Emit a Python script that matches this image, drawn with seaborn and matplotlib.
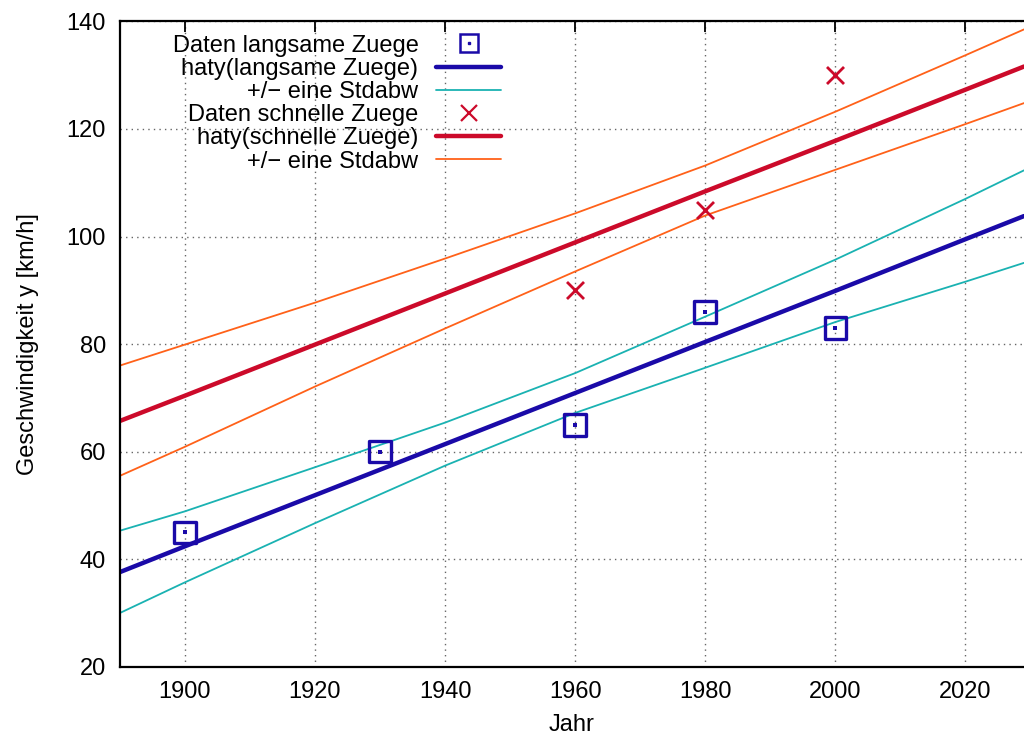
import matplotlib
matplotlib.use("Agg")
import matplotlib.pyplot as plt
from matplotlib.lines import Line2D
import seaborn as sns
import numpy as np

# ---- data ----
slow_years = [1900, 1930, 1960, 1980, 2000]
slow_speed = [45, 60, 65, 86, 83]
fast_years = [1960, 1980, 2000]
fast_speed = [90, 105, 130]

curve_years = [1890, 1900, 1920, 1940, 1960, 1980, 2000, 2020, 2029]
slow_fit   = [37.6, 42.4, 51.9, 61.4, 70.9, 80.4, 89.9, 99.5, 103.8]
slow_upper = [45.3, 48.9, 57.1, 65.4, 74.6, 85.1, 95.7, 107.0, 112.3]
slow_lower = [30.0, 35.7, 46.7, 57.4, 67.2, 75.6, 84.1, 91.6, 95.1]
fast_fit   = [65.7, 70.4, 79.9, 89.4, 98.9, 108.4, 117.8, 127.3, 131.6]
fast_upper = [76.0, 79.9, 87.7, 95.9, 104.3, 113.2, 123.2, 133.7, 138.5]
fast_lower = [55.5, 60.9, 72.1, 82.9, 93.5, 103.9, 112.4, 120.9, 124.8]

x_ticks = [1900, 1920, 1940, 1960, 1980, 2000, 2020]
y_ticks = [20, 40, 60, 80, 100, 120, 140]

labels = ["Daten langsame Zuege", "haty(langsame Zuege)", "+/\u2212 eine Stdabw",
          "Daten schnelle Zuege", "haty(schnelle Zuege)", "+/\u2212 eine Stdabw"]

# ---- style ----
sns.set_theme(style="white")
plt.rcParams["font.family"] = ["Liberation Sans", "DejaVu Sans"]
plt.rcParams["font.size"] = 17
plt.rcParams["text.color"] = "black"
plt.rcParams["axes.labelcolor"] = "black"
plt.rcParams["xtick.color"] = "black"
plt.rcParams["ytick.color"] = "black"

BLUE = "#1a0aa8"
CYAN = "#1ab2b2"
RED = "#cc0a2a"
ORANGE = "#ff6119"

fig = plt.figure(figsize=(10.24, 7.36), dpi=100)
ax = fig.add_axes([0.117, 0.094, 0.883, 0.877])

sns.lineplot(x=curve_years, y=slow_upper, ax=ax, color=CYAN, lw=1.3)
sns.lineplot(x=curve_years, y=slow_lower, ax=ax, color=CYAN, lw=1.3)
sns.lineplot(x=curve_years, y=fast_upper, ax=ax, color=ORANGE, lw=1.3)
sns.lineplot(x=curve_years, y=fast_lower, ax=ax, color=ORANGE, lw=1.3)
sns.lineplot(x=curve_years, y=slow_fit, ax=ax, color=BLUE, lw=3.2)
sns.lineplot(x=curve_years, y=fast_fit, ax=ax, color=RED, lw=3.2)

sns.scatterplot(x=slow_years, y=slow_speed, ax=ax, marker="s", s=240,
                facecolor="none", edgecolor=BLUE, linewidth=2.4, zorder=5)
sns.scatterplot(x=slow_years, y=slow_speed, ax=ax, marker="s", s=5,
                color=BLUE, linewidth=0, zorder=6)
sns.scatterplot(x=fast_years, y=fast_speed, ax=ax, marker="x", s=150,
                color=RED, linewidth=2.0, zorder=5)

ax.set_xlim(1890, 2029)
ax.set_ylim(20, 140)
ax.set_xticks(x_ticks)
ax.set_yticks(y_ticks)
ax.grid(True, color="#666666", linestyle=(0, (1, 3)), linewidth=1.0)
ax.set_axisbelow(True)
for s in ax.spines.values():
    s.set_color("black")
    s.set_linewidth(1.6)
ax.spines["right"].set_visible(False)
ax.tick_params(direction="in", length=8, width=1.3, top=True, right=False,
               labelsize=17, colors="black", pad=10)
ax.set_xlabel("Jahr", fontsize=17, labelpad=8, color="black")
ax.set_ylabel("Geschwindigkeit y [km/h]", fontsize=17, labelpad=20, color="black")

# ---- legend ----
h_slow_pts = (Line2D([], [], ls="none", marker="s", ms=13.5, mfc="none", mec=BLUE, mew=1.8),
              Line2D([], [], ls="none", marker="s", ms=1.5, color=BLUE))
handles = [
    h_slow_pts,
    Line2D([], [], color=BLUE, lw=3.2),
    Line2D([], [], color=CYAN, lw=1.3),
    Line2D([], [], ls="none", marker="x", ms=12, mew=1.6, color=RED),
    Line2D([], [], color=RED, lw=3.2),
    Line2D([], [], color=ORANGE, lw=1.3),
]
leg = ax.legend(handles, labels, loc="upper left", bbox_to_anchor=(0.040, 1.005),
                frameon=False, markerfirst=False, handlelength=2.75,
                handletextpad=0.75, labelspacing=0.05, fontsize=17, borderpad=0.2)
for vp in leg._legend_handle_box.get_children():
    vp.align = "right"
for t in leg.get_texts():
    t.set_color("black")

fig.savefig("out.png", dpi=100)
